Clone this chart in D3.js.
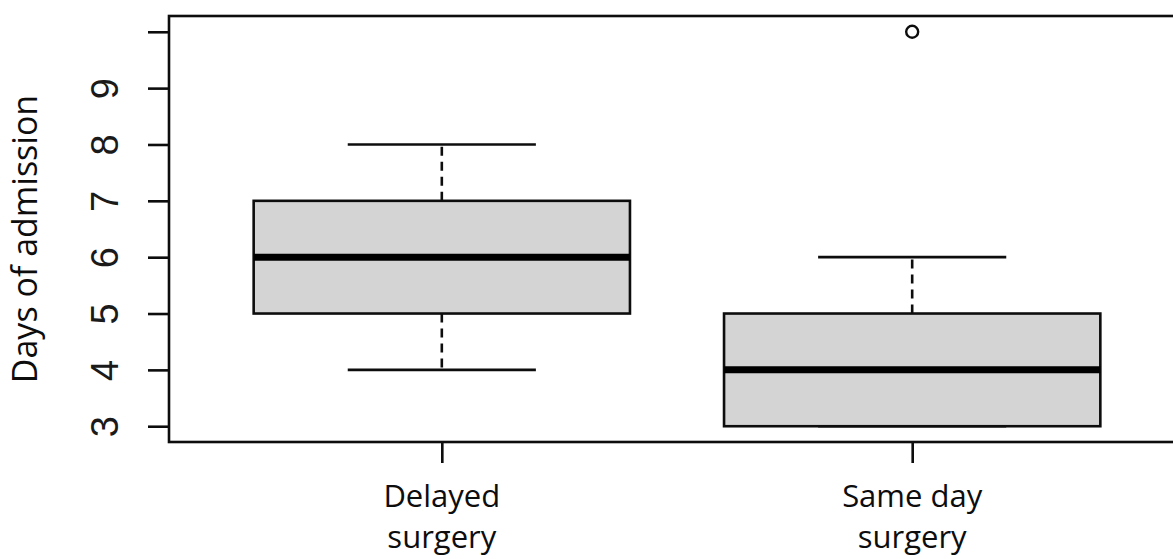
<!DOCTYPE html>
<html>
<head>
<meta charset="utf-8">
<script src="https://cdn.jsdelivr.net/npm/d3@7"></script>
<style>
  html, body { margin: 0; padding: 0; background: #fff; }
  svg { display: block; }
</style>
</head>
<body>
<svg id="chart" width="1173" height="559"></svg>
<script>
// Box-plot summary per group: days of admission
const groups = [["Delayed", "surgery"], ["Same day", "surgery"]];
const lowerWhisker = [4, 3];
const q1 = [5, 3];
const median = [6, 4];
const q3 = [7, 5];
const upperWhisker = [8, 6];
const outliers = [[], [10]];

const yTicks = [3, 4, 5, 6, 7, 8, 9, 10];
const yTickLabels = ["3", "4", "5", "6", "7", "8", "9", ""];
const yTitle = "Days of admission";

(function draw() {
  const svg = d3.select("#chart");

  // plot region (user coordinates padded 4% on each side, as in base R graphics)
  const plotLeft = 169, plotTop = 16, plotBottom = 442, plotRight = 1185;
  const xPad = groups.length * 0.04;
  const x = d3.scaleLinear()
    .domain([0.5 - xPad, groups.length + 0.5 + xPad])
    .range([plotLeft, plotRight]);
  const yMin = d3.min(yTicks), yMax = d3.max(yTicks);
  const yPad = (yMax - yMin) * 0.04;
  const y = d3.scaleLinear()
    .domain([yMin - yPad, yMax + yPad])
    .range([plotBottom, plotTop]);

  const boxHalf = x(1.4) - x(1);        // boxwex 0.8
  const capHalf = boxHalf / 2;          // staplewex 0.5
  const ink = "#0d0d0d";

  const g = svg.append("g");

  groups.forEach((grp, i) => {
    const cx = x(i + 1);
    // whiskers (dashed)
    if (upperWhisker[i] > q3[i]) {
      g.append("line").attr("x1", cx).attr("x2", cx)
        .attr("y1", y(q3[i])).attr("y2", y(upperWhisker[i]))
        .attr("stroke", ink).attr("stroke-width", 2.6).attr("stroke-dasharray", "9,6");
    }
    if (lowerWhisker[i] < q1[i]) {
      g.append("line").attr("x1", cx).attr("x2", cx)
        .attr("y1", y(q1[i])).attr("y2", y(lowerWhisker[i]))
        .attr("stroke", ink).attr("stroke-width", 2.6).attr("stroke-dasharray", "9,6");
    }
    // staples
    [upperWhisker[i], lowerWhisker[i]].forEach(v => {
      g.append("line").attr("x1", cx - capHalf).attr("x2", cx + capHalf)
        .attr("y1", y(v)).attr("y2", y(v))
        .attr("stroke", ink).attr("stroke-width", 2.6);
    });
    // box
    g.append("rect")
      .attr("x", cx - boxHalf).attr("width", 2 * boxHalf)
      .attr("y", y(q3[i])).attr("height", y(q1[i]) - y(q3[i]))
      .attr("fill", "#d4d4d4").attr("stroke", ink).attr("stroke-width", 2.6);
    // median
    g.append("line").attr("x1", cx - boxHalf).attr("x2", cx + boxHalf)
      .attr("y1", y(median[i])).attr("y2", y(median[i]))
      .attr("stroke", "#000").attr("stroke-width", 7);
    // outliers
    outliers[i].forEach(v => {
      g.append("circle").attr("cx", cx).attr("cy", y(v)).attr("r", 6)
        .attr("fill", "none").attr("stroke", ink).attr("stroke-width", 2.4);
    });
  });

  // frame around the plot region
  svg.append("rect")
    .attr("x", plotLeft).attr("y", plotTop)
    .attr("width", plotRight - plotLeft).attr("height", plotBottom - plotTop)
    .attr("fill", "none").attr("stroke", ink).attr("stroke-width", 2.6);

  // y axis
  const yAxis = svg.append("g")
    .attr("transform", `translate(${plotLeft},0)`)
    .call(d3.axisLeft(y).tickValues(yTicks).tickSize(21)
      .tickFormat((d, i) => yTickLabels[i]));
  yAxis.select(".domain").remove();
  yAxis.selectAll(".tick line").attr("stroke", ink).attr("stroke-width", 2.6);
  yAxis.selectAll(".tick text")
    .attr("x", null).attr("dy", null)
    .attr("transform", "translate(-51,0) rotate(-90)")
    .attr("text-anchor", "middle")
    .attr("fill", "#1a1a1a")
    .style("font-family", "'Liberation Sans', Arial, sans-serif")
    .style("font-size", "38px");

  // x axis
  const xAxis = svg.append("g")
    .attr("transform", `translate(0,${plotBottom})`)
    .call(d3.axisBottom(x).tickValues(groups.map((d, i) => i + 1)).tickSize(21).tickFormat(""));
  xAxis.select(".domain").remove();
  xAxis.selectAll(".tick line").attr("stroke", ink).attr("stroke-width", 2.6);

  const xl = svg.append("g")
    .style("font-family", "'Open Sans', sans-serif")
    .style("font-size", "31px")
    .attr("fill", "#0d0d0d");
  groups.forEach((lines, i) => {
    const t = xl.append("text").attr("text-anchor", "middle");
    lines.forEach((ln, j) => {
      t.append("tspan").attr("x", x(i + 1)).attr("y", 507 + j * 41).text(ln);
    });
  });

  // y title
  svg.append("text")
    .attr("transform", `translate(37,${(plotTop + plotBottom) / 2 + 10}) rotate(-90)`)
    .attr("text-anchor", "middle")
    .style("font-family", "'Open Sans', sans-serif")
    .style("font-size", "34px")
    .attr("fill", "#0d0d0d")
    .text(yTitle);
})();
</script>
</body>
</html>
